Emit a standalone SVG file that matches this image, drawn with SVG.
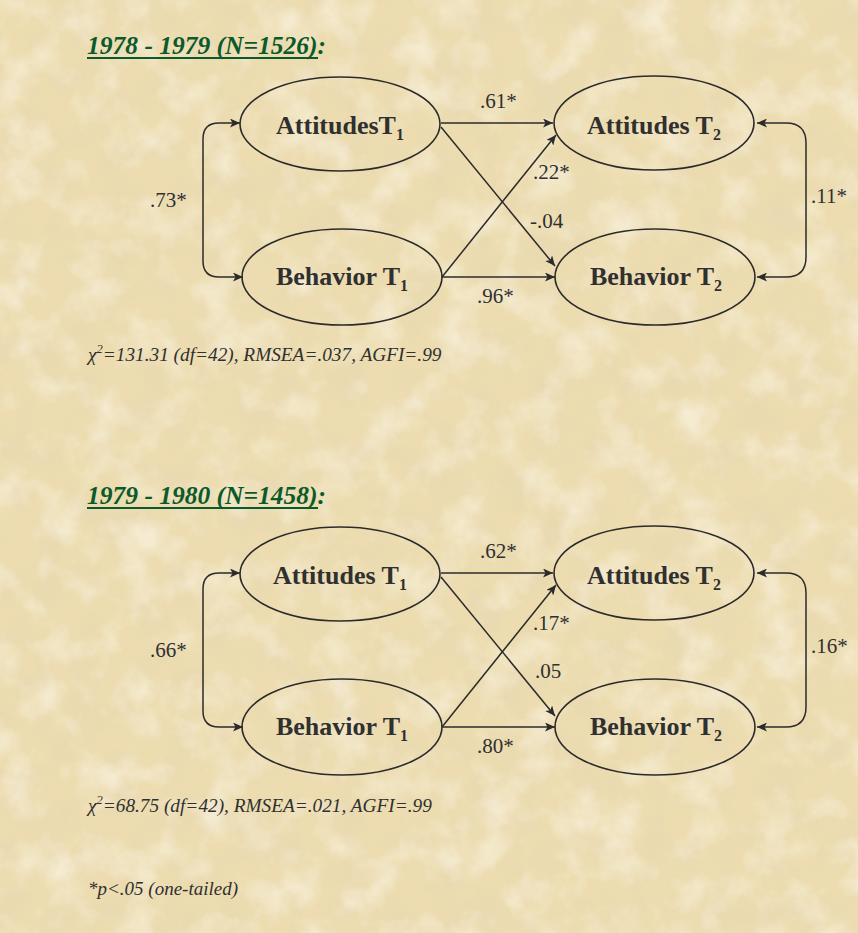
<svg xmlns="http://www.w3.org/2000/svg" width="858" height="933" viewBox="0 0 858 933">
<style>
.title{font-family:"Liberation Serif","Times New Roman",serif;font-size:25.5px;font-weight:bold;font-style:italic;fill:#0b5a2b}
.node ellipse{fill:none;stroke:#2b2b2b;stroke-width:1.6}
.node text{font-family:"Liberation Serif","Times New Roman",serif;font-size:26px;font-weight:bold;fill:#303030;text-anchor:middle}
.sub{font-size:16px}
.lbl{font-family:"Liberation Serif","Times New Roman",serif;font-size:21px;fill:#303030}
.note{font-family:"Liberation Serif","Times New Roman",serif;font-size:19.3px;font-style:italic;fill:#303030}
.edge{fill:none;stroke:#2b2b2b;stroke-width:1.5;marker-end:url(#ah)}
.both{fill:none;stroke:#2b2b2b;stroke-width:1.5;marker-start:url(#ah);marker-end:url(#ah)}
</style>
<defs>
<marker id="ah" markerUnits="userSpaceOnUse" markerWidth="11" markerHeight="9" refX="10" refY="4.5" orient="auto-start-reverse">
<path d="M0,0 L10,4.5 L0,9 L2.5,4.5 z" fill="#2b2b2b"/>
</marker>
<filter id="paper" x="0" y="0" width="100%" height="100%">
<feTurbulence type="fractalNoise" baseFrequency="0.025" numOctaves="4" seed="7" result="n"/>
<feColorMatrix in="n" type="matrix" values="0 0 0 0 0.98  0 0 0 0 0.95  0 0 0 0 0.86  2.4 0 0 0 -1.1"/>
</filter>
<filter id="paper2" x="0" y="0" width="100%" height="100%">
<feTurbulence type="fractalNoise" baseFrequency="0.03" numOctaves="4" seed="21" result="n"/>
<feColorMatrix in="n" type="matrix" values="0 0 0 0 0.80  0 0 0 0 0.68  0 0 0 0 0.45  0 2.4 0 0 -1.05"/>
</filter>
</defs>
<rect width="858" height="933" fill="#ecdcb0"/>
<rect width="858" height="933" filter="url(#paper2)" opacity="0.55"/>
<rect width="858" height="933" filter="url(#paper)" opacity="0.55"/>

<g id="title1">
<text class="title" x="87" y="54">1978 - 1979 (N=1526):</text>
<line x1="87" y1="58" x2="318" y2="58" stroke="#0b5a2b" stroke-width="2"/>
</g>

<g id="connectors1">
<path class="edge" d="M441,123 L553,123"/>
<path class="edge" d="M441,127 L555,266"/>
<path class="edge" d="M442,277 L556,135"/>
<path class="edge" d="M442,277 L555,277"/>
<path class="both" d="M240,123 L219,123 Q203,123 203,139 L203,261 Q203,277 219,277 L243,277"/>
<path class="both" d="M757,123 L786,123 Q806,123 806,143 L806,257 Q806,277 786,277 L757,277"/>
</g>

<g id="a1_top" class="node"><ellipse cx="340" cy="124" rx="100" ry="47"/><text x="340" y="134">AttitudesT<tspan class="sub" dy="6">1</tspan></text></g>
<g id="b1_top" class="node"><ellipse cx="342" cy="277" rx="100" ry="48"/><text x="342" y="285">Behavior T<tspan class="sub" dy="6">1</tspan></text></g>
<g id="a2_top" class="node"><ellipse cx="654" cy="123" rx="100" ry="47"/><text x="654" y="134">Attitudes T<tspan class="sub" dy="6">2</tspan></text></g>
<g id="b2_top" class="node"><ellipse cx="655" cy="277" rx="100" ry="48"/><text x="656" y="285">Behavior T<tspan class="sub" dy="6">2</tspan></text></g>

<g id="labels1">
<text class="lbl" x="480" y="108">.61*</text>
<text class="lbl" x="533" y="179">.22*</text>
<text class="lbl" x="530" y="228">-.04</text>
<text class="lbl" x="477" y="303">.96*</text>
<text class="lbl" x="811" y="203">.11*</text>
<text class="lbl" x="150" y="207">.73*</text>
</g>

<text class="note" x="88" y="361">χ<tspan font-size="12.5" dy="-8">2</tspan><tspan dy="8">=131.31 (df=42), RMSEA=.037, AGFI=.99</tspan></text>

<g id="title2">
<text class="title" x="87" y="504">1979 - 1980 (N=1458):</text>
<line x1="87" y1="508" x2="318" y2="508" stroke="#0b5a2b" stroke-width="2"/>
</g>

<g id="connectors2">
<path class="edge" d="M441,573 L553,573"/>
<path class="edge" d="M441,577 L555,716"/>
<path class="edge" d="M442,727 L556,585"/>
<path class="edge" d="M442,727 L555,727"/>
<path class="both" d="M240,573 L219,573 Q203,573 203,589 L203,711 Q203,727 219,727 L243,727"/>
<path class="both" d="M757,573 L786,573 Q806,573 806,593 L806,707 Q806,727 786,727 L757,727"/>
</g>

<g id="a1_bot" class="node"><ellipse cx="340" cy="574" rx="100" ry="47"/><text x="340" y="584">Attitudes T<tspan class="sub" dy="6">1</tspan></text></g>
<g id="b1_bot" class="node"><ellipse cx="342" cy="727" rx="100" ry="48"/><text x="342" y="735">Behavior T<tspan class="sub" dy="6">1</tspan></text></g>
<g id="a2_bot" class="node"><ellipse cx="654" cy="573" rx="100" ry="47"/><text x="654" y="584">Attitudes T<tspan class="sub" dy="6">2</tspan></text></g>
<g id="b2_bot" class="node"><ellipse cx="655" cy="727" rx="100" ry="48"/><text x="656" y="735">Behavior T<tspan class="sub" dy="6">2</tspan></text></g>

<g id="labels2">
<text class="lbl" x="480" y="558">.62*</text>
<text class="lbl" x="533" y="630">.17*</text>
<text class="lbl" x="535" y="678">.05</text>
<text class="lbl" x="477" y="753">.80*</text>
<text class="lbl" x="811" y="653">.16*</text>
<text class="lbl" x="150" y="657">.66*</text>
</g>

<text class="note" x="88" y="812">χ<tspan font-size="12.5" dy="-8">2</tspan><tspan dy="8">=68.75 (df=42), RMSEA=.021, AGFI=.99</tspan></text>

<text class="note" x="88" y="895" style="font-size:19px">*p&lt;.05 (one-tailed)</text>
</svg>
